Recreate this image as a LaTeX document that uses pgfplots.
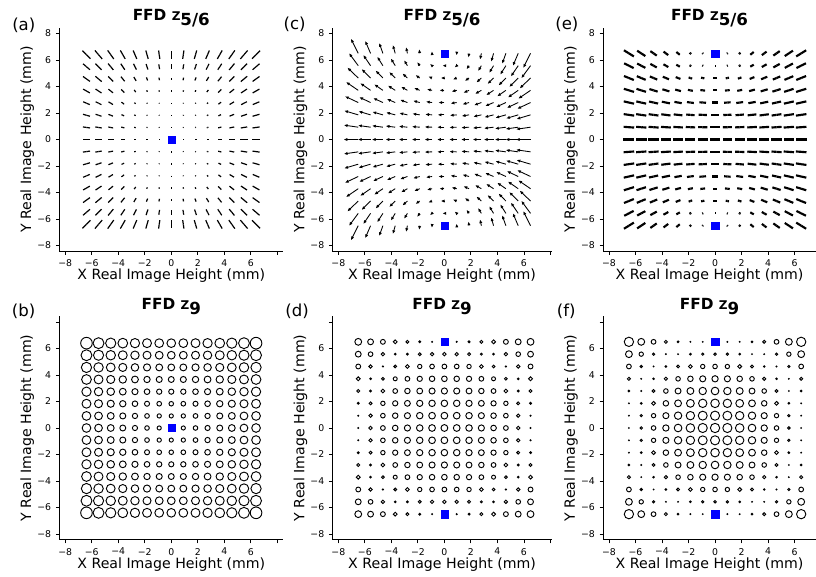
\documentclass[border=0pt]{standalone}
\usepackage{fontspec}
\setmainfont{DejaVu Sans}
\usepackage{pgfplots}
\usepackage{pgfplotstable}
\pgfplotsset{compat=1.18}
\usetikzlibrary{arrows.meta}
\definecolor{nodeblue}{RGB}{0,0,255}

% panel (a): half vectors of the centred segments
\pgfplotstableread[row sep=\\]{
x y u v\\
-6.4 6.4 0.304 -0.304\\-5.49 6.4 0.273 -0.319\\-4.57 6.4 0.229 -0.322\\-3.66 6.4 0.184 -0.321\\-2.74 6.4 0.136 -0.317\\-1.83 6.4 0.091 -0.317\\-0.91 6.4 0.045 -0.317\\0 6.4 0 0.31\\0.91 6.4 0.045 0.317\\1.83 6.4 0.091 0.317\\2.74 6.4 0.136 0.317\\3.66 6.4 0.184 0.321\\4.57 6.4 0.229 0.322\\5.49 6.4 0.273 0.319\\6.4 6.4 0.304 0.304\\
-6.4 5.49 0.262 -0.225\\-5.49 5.49 0.233 -0.233\\-4.57 5.49 0.198 -0.238\\-3.66 5.49 0.15 -0.225\\-2.74 5.49 0.11 -0.219\\-1.83 5.49 0.07 -0.209\\-0.91 5.49 0.03 -0.182\\0 5.49 0 0.185\\0.91 5.49 0.03 0.182\\1.83 5.49 0.07 0.209\\2.74 5.49 0.11 0.219\\3.66 5.49 0.15 0.225\\4.57 5.49 0.198 0.238\\5.49 5.49 0.233 0.233\\6.4 5.49 0.262 0.225\\
-6.4 4.57 0.26 -0.186\\-5.49 4.57 0.238 -0.198\\-4.57 4.57 0.191 -0.191\\-3.66 4.57 0.138 -0.172\\-2.74 4.57 0.087 -0.146\\-1.83 4.57 0.046 -0.116\\-0.91 4.57 0.02 -0.098\\0 4.57 0 0.1\\0.91 4.57 0.02 0.098\\1.83 4.57 0.046 0.116\\2.74 4.57 0.087 0.146\\3.66 4.57 0.138 0.172\\4.57 4.57 0.191 0.191\\5.49 4.57 0.238 0.198\\6.4 4.57 0.26 0.186\\
-6.4 3.66 0.256 -0.146\\-5.49 3.66 0.225 -0.15\\-4.57 3.66 0.172 -0.138\\-3.66 3.66 0.12 -0.12\\-2.74 3.66 0.06 -0.08\\-1.83 3.66 0.027 -0.054\\-0.91 3.66 0.012 -0.049\\0 3.66 0 0.05\\0.91 3.66 0.012 0.049\\1.83 3.66 0.027 0.054\\2.74 3.66 0.06 0.08\\3.66 3.66 0.12 0.12\\4.57 3.66 0.172 0.138\\5.49 3.66 0.225 0.15\\6.4 3.66 0.256 0.146\\
-6.4 2.74 0.248 -0.106\\-5.49 2.74 0.219 -0.11\\-4.57 2.74 0.167 -0.1\\-3.66 2.74 0.1 -0.075\\-2.74 2.74 0.042 -0.042\\-1.83 2.74 0.019 -0.029\\-0.91 2.74 0.008 -0.024\\0 2.74 0 0.025\\0.91 2.74 0.008 0.024\\1.83 2.74 0.019 0.029\\2.74 2.74 0.042 0.042\\3.66 2.74 0.1 0.075\\4.57 2.74 0.167 0.1\\5.49 2.74 0.219 0.11\\6.4 2.74 0.248 0.106\\
-6.4 1.83 0.26 -0.074\\-5.49 1.83 0.223 -0.074\\-4.57 1.83 0.172 -0.069\\-3.66 1.83 0.098 -0.049\\-2.74 1.83 0.05 -0.033\\-1.83 1.83 0.025 -0.025\\-0.91 1.83 0.011 -0.022\\0 1.83 0 0.025\\0.91 1.83 0.011 0.022\\1.83 1.83 0.025 0.025\\2.74 1.83 0.05 0.033\\3.66 1.83 0.098 0.049\\4.57 1.83 0.172 0.069\\5.49 1.83 0.223 0.074\\6.4 1.83 0.26 0.074\\
-6.4 0.91 0.267 -0.038\\-5.49 0.91 0.242 -0.04\\-4.57 0.91 0.181 -0.036\\-3.66 0.91 0.121 -0.03\\-2.74 0.91 0.057 -0.019\\-1.83 0.91 0.031 -0.016\\-0.91 0.91 0.018 -0.018\\0 0.91 0 0.02\\0.91 0.91 0.018 0.018\\1.83 0.91 0.031 0.016\\2.74 0.91 0.057 0.019\\3.66 0.91 0.121 0.03\\4.57 0.91 0.181 0.036\\5.49 0.91 0.242 0.04\\6.4 0.91 0.267 0.038\\
-6.4 0 0.295 0\\-5.49 0 0.27 0\\-4.57 0 0.22 0\\-3.66 0 0.15 0\\-2.74 0 0.075 0\\-1.83 0 0.05 0\\-0.91 0 0.015 0\\0.91 0 0.015 0\\1.83 0 0.05 0\\2.74 0 0.075 0\\3.66 0 0.15 0\\4.57 0 0.22 0\\5.49 0 0.27 0\\6.4 0 0.295 0\\
-6.4 -0.91 0.267 0.038\\-5.49 -0.91 0.242 0.04\\-4.57 -0.91 0.181 0.036\\-3.66 -0.91 0.121 0.03\\-2.74 -0.91 0.057 0.019\\-1.83 -0.91 0.031 0.016\\-0.91 -0.91 0.018 0.018\\0 -0.91 0 0.02\\0.91 -0.91 0.018 -0.018\\1.83 -0.91 0.031 -0.016\\2.74 -0.91 0.057 -0.019\\3.66 -0.91 0.121 -0.03\\4.57 -0.91 0.181 -0.036\\5.49 -0.91 0.242 -0.04\\6.4 -0.91 0.267 -0.038\\
-6.4 -1.83 0.26 0.074\\-5.49 -1.83 0.223 0.074\\-4.57 -1.83 0.172 0.069\\-3.66 -1.83 0.098 0.049\\-2.74 -1.83 0.05 0.033\\-1.83 -1.83 0.025 0.025\\-0.91 -1.83 0.011 0.022\\0 -1.83 0 0.025\\0.91 -1.83 0.011 -0.022\\1.83 -1.83 0.025 -0.025\\2.74 -1.83 0.05 -0.033\\3.66 -1.83 0.098 -0.049\\4.57 -1.83 0.172 -0.069\\5.49 -1.83 0.223 -0.074\\6.4 -1.83 0.26 -0.074\\
-6.4 -2.74 0.248 0.106\\-5.49 -2.74 0.219 0.11\\-4.57 -2.74 0.167 0.1\\-3.66 -2.74 0.1 0.075\\-2.74 -2.74 0.042 0.042\\-1.83 -2.74 0.019 0.029\\-0.91 -2.74 0.008 0.024\\0 -2.74 0 0.025\\0.91 -2.74 0.008 -0.024\\1.83 -2.74 0.019 -0.029\\2.74 -2.74 0.042 -0.042\\3.66 -2.74 0.1 -0.075\\4.57 -2.74 0.167 -0.1\\5.49 -2.74 0.219 -0.11\\6.4 -2.74 0.248 -0.106\\
-6.4 -3.66 0.256 0.146\\-5.49 -3.66 0.225 0.15\\-4.57 -3.66 0.172 0.138\\-3.66 -3.66 0.12 0.12\\-2.74 -3.66 0.06 0.08\\-1.83 -3.66 0.027 0.054\\-0.91 -3.66 0.012 0.049\\0 -3.66 0 0.05\\0.91 -3.66 0.012 -0.049\\1.83 -3.66 0.027 -0.054\\2.74 -3.66 0.06 -0.08\\3.66 -3.66 0.12 -0.12\\4.57 -3.66 0.172 -0.138\\5.49 -3.66 0.225 -0.15\\6.4 -3.66 0.256 -0.146\\
-6.4 -4.57 0.26 0.186\\-5.49 -4.57 0.238 0.198\\-4.57 -4.57 0.191 0.191\\-3.66 -4.57 0.138 0.172\\-2.74 -4.57 0.087 0.146\\-1.83 -4.57 0.046 0.116\\-0.91 -4.57 0.02 0.098\\0 -4.57 0 0.1\\0.91 -4.57 0.02 -0.098\\1.83 -4.57 0.046 -0.116\\2.74 -4.57 0.087 -0.146\\3.66 -4.57 0.138 -0.172\\4.57 -4.57 0.191 -0.191\\5.49 -4.57 0.238 -0.198\\6.4 -4.57 0.26 -0.186\\
-6.4 -5.49 0.262 0.225\\-5.49 -5.49 0.233 0.233\\-4.57 -5.49 0.198 0.238\\-3.66 -5.49 0.15 0.225\\-2.74 -5.49 0.11 0.219\\-1.83 -5.49 0.07 0.209\\-0.91 -5.49 0.03 0.182\\0 -5.49 0 0.185\\0.91 -5.49 0.03 -0.182\\1.83 -5.49 0.07 -0.209\\2.74 -5.49 0.11 -0.219\\3.66 -5.49 0.15 -0.225\\4.57 -5.49 0.198 -0.238\\5.49 -5.49 0.233 -0.233\\6.4 -5.49 0.262 -0.225\\
-6.4 -6.4 0.304 0.304\\-5.49 -6.4 0.273 0.319\\-4.57 -6.4 0.229 0.322\\-3.66 -6.4 0.184 0.321\\-2.74 -6.4 0.136 0.317\\-1.83 -6.4 0.091 0.317\\-0.91 -6.4 0.045 0.317\\0 -6.4 0 0.31\\0.91 -6.4 0.045 -0.317\\1.83 -6.4 0.091 -0.317\\2.74 -6.4 0.136 -0.317\\3.66 -6.4 0.184 -0.321\\4.57 -6.4 0.229 -0.322\\5.49 -6.4 0.273 -0.319\\6.4 -6.4 0.304 -0.304\\
}\tabA

% panel (c): arrows, tail at the grid point
\pgfplotstableread[row sep=\\]{
x y u v\\
-6.5 6.5 -0.549 1.098\\-5.57 6.5 -0.404 0.942\\-4.64 6.5 -0.28 0.785\\-3.71 6.5 -0.179 0.628\\-2.79 6.5 -0.101 0.471\\-1.86 6.5 -0.045 0.314\\-0.93 6.5 -0.011 0.157\\0.93 6.5 -0.011 -0.157\\1.86 6.5 -0.045 -0.314\\2.79 6.5 -0.101 -0.471\\3.71 6.5 -0.179 -0.628\\4.64 6.5 -0.28 -0.785\\5.57 6.5 -0.404 -0.942\\6.5 6.5 -0.549 -1.098\\
-6.5 5.57 -0.695 0.942\\-5.57 5.57 -0.549 0.807\\-4.64 5.57 -0.426 0.673\\-3.71 5.57 -0.325 0.538\\-2.79 5.57 -0.247 0.404\\-1.86 5.57 -0.191 0.269\\-0.93 5.57 -0.157 0.135\\0 5.57 -0.146 0\\0.93 5.57 -0.157 -0.135\\1.86 5.57 -0.191 -0.269\\2.79 5.57 -0.247 -0.404\\3.71 5.57 -0.325 -0.538\\4.64 5.57 -0.426 -0.673\\5.57 5.57 -0.549 -0.807\\6.5 5.57 -0.695 -0.942\\
-6.5 4.64 -0.818 0.785\\-5.57 4.64 -0.673 0.673\\-4.64 4.64 -0.549 0.56\\-3.71 4.64 -0.449 0.448\\-2.79 4.64 -0.37 0.336\\-1.86 4.64 -0.314 0.224\\-0.93 4.64 -0.28 0.112\\0 4.64 -0.269 0\\0.93 4.64 -0.28 -0.112\\1.86 4.64 -0.314 -0.224\\2.79 4.64 -0.37 -0.336\\3.71 4.64 -0.449 -0.448\\4.64 4.64 -0.549 -0.56\\5.57 4.64 -0.673 -0.673\\6.5 4.64 -0.818 -0.785\\
-6.5 3.71 -0.919 0.628\\-5.57 3.71 -0.773 0.538\\-4.64 3.71 -0.65 0.448\\-3.71 3.71 -0.549 0.359\\-2.79 3.71 -0.471 0.269\\-1.86 3.71 -0.415 0.179\\-0.93 3.71 -0.381 0.09\\0 3.71 -0.37 0\\0.93 3.71 -0.381 -0.09\\1.86 3.71 -0.415 -0.179\\2.79 3.71 -0.471 -0.269\\3.71 3.71 -0.549 -0.359\\4.64 3.71 -0.65 -0.448\\5.57 3.71 -0.773 -0.538\\6.5 3.71 -0.919 -0.628\\
-6.5 2.79 -0.998 0.471\\-5.57 2.79 -0.852 0.404\\-4.64 2.79 -0.729 0.336\\-3.71 2.79 -0.628 0.269\\-2.79 2.79 -0.549 0.202\\-1.86 2.79 -0.493 0.135\\-0.93 2.79 -0.46 0.067\\0 2.79 -0.448 0\\0.93 2.79 -0.46 -0.067\\1.86 2.79 -0.493 -0.135\\2.79 2.79 -0.549 -0.202\\3.71 2.79 -0.628 -0.269\\4.64 2.79 -0.729 -0.336\\5.57 2.79 -0.852 -0.404\\6.5 2.79 -0.998 -0.471\\
-6.5 1.86 -1.054 0.314\\-5.57 1.86 -0.908 0.269\\-4.64 1.86 -0.785 0.224\\-3.71 1.86 -0.684 0.179\\-2.79 1.86 -0.605 0.135\\-1.86 1.86 -0.549 0.09\\-0.93 1.86 -0.516 0.045\\0 1.86 -0.504 0\\0.93 1.86 -0.516 -0.045\\1.86 1.86 -0.549 -0.09\\2.79 1.86 -0.605 -0.135\\3.71 1.86 -0.684 -0.179\\4.64 1.86 -0.785 -0.224\\5.57 1.86 -0.908 -0.269\\6.5 1.86 -1.054 -0.314\\
-6.5 0.93 -1.087 0.157\\-5.57 0.93 -0.942 0.135\\-4.64 0.93 -0.818 0.112\\-3.71 0.93 -0.717 0.09\\-2.79 0.93 -0.639 0.067\\-1.86 0.93 -0.583 0.045\\-0.93 0.93 -0.549 0.022\\0 0.93 -0.538 0\\0.93 0.93 -0.549 -0.022\\1.86 0.93 -0.583 -0.045\\2.79 0.93 -0.639 -0.067\\3.71 0.93 -0.717 -0.09\\4.64 0.93 -0.818 -0.112\\5.57 0.93 -0.942 -0.135\\6.5 0.93 -1.087 -0.157\\
-6.5 0 -1.099 0\\-5.57 0 -0.953 0\\-4.64 0 -0.83 0\\-3.71 0 -0.729 0\\-2.79 0 -0.65 0\\-1.86 0 -0.594 0\\-0.93 0 -0.561 0\\0 0 -0.549 0\\0.93 0 -0.561 0\\1.86 0 -0.594 0\\2.79 0 -0.65 0\\3.71 0 -0.729 0\\4.64 0 -0.83 0\\5.57 0 -0.953 0\\6.5 0 -1.099 0\\
-6.5 -0.93 -1.087 -0.157\\-5.57 -0.93 -0.942 -0.135\\-4.64 -0.93 -0.818 -0.112\\-3.71 -0.93 -0.717 -0.09\\-2.79 -0.93 -0.639 -0.067\\-1.86 -0.93 -0.583 -0.045\\-0.93 -0.93 -0.549 -0.022\\0 -0.93 -0.538 0\\0.93 -0.93 -0.549 0.022\\1.86 -0.93 -0.583 0.045\\2.79 -0.93 -0.639 0.067\\3.71 -0.93 -0.717 0.09\\4.64 -0.93 -0.818 0.112\\5.57 -0.93 -0.942 0.135\\6.5 -0.93 -1.087 0.157\\
-6.5 -1.86 -1.054 -0.314\\-5.57 -1.86 -0.908 -0.269\\-4.64 -1.86 -0.785 -0.224\\-3.71 -1.86 -0.684 -0.179\\-2.79 -1.86 -0.605 -0.135\\-1.86 -1.86 -0.549 -0.09\\-0.93 -1.86 -0.516 -0.045\\0 -1.86 -0.504 0\\0.93 -1.86 -0.516 0.045\\1.86 -1.86 -0.549 0.09\\2.79 -1.86 -0.605 0.135\\3.71 -1.86 -0.684 0.179\\4.64 -1.86 -0.785 0.224\\5.57 -1.86 -0.908 0.269\\6.5 -1.86 -1.054 0.314\\
-6.5 -2.79 -0.998 -0.471\\-5.57 -2.79 -0.852 -0.404\\-4.64 -2.79 -0.729 -0.336\\-3.71 -2.79 -0.628 -0.269\\-2.79 -2.79 -0.549 -0.202\\-1.86 -2.79 -0.493 -0.135\\-0.93 -2.79 -0.46 -0.067\\0 -2.79 -0.448 0\\0.93 -2.79 -0.46 0.067\\1.86 -2.79 -0.493 0.135\\2.79 -2.79 -0.549 0.202\\3.71 -2.79 -0.628 0.269\\4.64 -2.79 -0.729 0.336\\5.57 -2.79 -0.852 0.404\\6.5 -2.79 -0.998 0.471\\
-6.5 -3.71 -0.919 -0.628\\-5.57 -3.71 -0.773 -0.538\\-4.64 -3.71 -0.65 -0.448\\-3.71 -3.71 -0.549 -0.359\\-2.79 -3.71 -0.471 -0.269\\-1.86 -3.71 -0.415 -0.179\\-0.93 -3.71 -0.381 -0.09\\0 -3.71 -0.37 0\\0.93 -3.71 -0.381 0.09\\1.86 -3.71 -0.415 0.179\\2.79 -3.71 -0.471 0.269\\3.71 -3.71 -0.549 0.359\\4.64 -3.71 -0.65 0.448\\5.57 -3.71 -0.773 0.538\\6.5 -3.71 -0.919 0.628\\
-6.5 -4.64 -0.818 -0.785\\-5.57 -4.64 -0.673 -0.673\\-4.64 -4.64 -0.549 -0.56\\-3.71 -4.64 -0.449 -0.448\\-2.79 -4.64 -0.37 -0.336\\-1.86 -4.64 -0.314 -0.224\\-0.93 -4.64 -0.28 -0.112\\0 -4.64 -0.269 0\\0.93 -4.64 -0.28 0.112\\1.86 -4.64 -0.314 0.224\\2.79 -4.64 -0.37 0.336\\3.71 -4.64 -0.449 0.448\\4.64 -4.64 -0.549 0.56\\5.57 -4.64 -0.673 0.673\\6.5 -4.64 -0.818 0.785\\
-6.5 -5.57 -0.695 -0.942\\-5.57 -5.57 -0.549 -0.807\\-4.64 -5.57 -0.426 -0.673\\-3.71 -5.57 -0.325 -0.538\\-2.79 -5.57 -0.247 -0.404\\-1.86 -5.57 -0.191 -0.269\\-0.93 -5.57 -0.157 -0.135\\0 -5.57 -0.146 0\\0.93 -5.57 -0.157 0.135\\1.86 -5.57 -0.191 0.269\\2.79 -5.57 -0.247 0.404\\3.71 -5.57 -0.325 0.538\\4.64 -5.57 -0.426 0.673\\5.57 -5.57 -0.549 0.807\\6.5 -5.57 -0.695 0.942\\
-6.5 -6.5 -0.549 -1.098\\-5.57 -6.5 -0.404 -0.942\\-4.64 -6.5 -0.28 -0.785\\-3.71 -6.5 -0.179 -0.628\\-2.79 -6.5 -0.101 -0.471\\-1.86 -6.5 -0.045 -0.314\\-0.93 -6.5 -0.011 -0.157\\0.93 -6.5 -0.011 0.157\\1.86 -6.5 -0.045 0.314\\2.79 -6.5 -0.101 0.471\\3.71 -6.5 -0.179 0.628\\4.64 -6.5 -0.28 0.785\\5.57 -6.5 -0.404 0.942\\6.5 -6.5 -0.549 1.098\\
}\tabC

% panel (e): half vectors of the centred segments
\pgfplotstableread[row sep=\\]{
x y u v\\
-6.5 6.5 0.374 -0.231\\-5.57 6.5 0.309 -0.204\\-4.64 6.5 0.241 -0.17\\-3.71 6.5 0.176 -0.132\\-2.79 6.5 0.128 -0.104\\-1.86 6.5 0.057 -0.049\\-0.93 6.5 0.029 -0.027\\0.93 6.5 0.029 0.027\\1.86 6.5 0.057 0.049\\2.79 6.5 0.128 0.104\\3.71 6.5 0.176 0.132\\4.64 6.5 0.241 0.17\\5.57 6.5 0.309 0.204\\6.5 6.5 0.374 0.231\\
-6.5 5.57 0.357 -0.18\\-5.57 5.57 0.309 -0.164\\-4.64 5.57 0.241 -0.133\\-3.71 5.57 0.183 -0.103\\-2.79 5.57 0.131 -0.073\\-1.86 5.57 0.067 -0.034\\-0.93 5.57 0.038 -0.014\\0 5.57 0.03 0\\0.93 5.57 0.038 0.014\\1.86 5.57 0.067 0.034\\2.79 5.57 0.131 0.073\\3.71 5.57 0.183 0.103\\4.64 5.57 0.241 0.133\\5.57 5.57 0.309 0.164\\6.5 5.57 0.357 0.18\\
-6.5 4.64 0.371 -0.149\\-5.57 4.64 0.333 -0.138\\-4.64 4.64 0.277 -0.116\\-3.71 4.64 0.231 -0.096\\-2.79 4.64 0.177 -0.069\\-1.86 4.64 0.133 -0.043\\-0.93 4.64 0.123 -0.024\\0 4.64 0.125 0\\0.93 4.64 0.123 0.024\\1.86 4.64 0.133 0.043\\2.79 4.64 0.177 0.069\\3.71 4.64 0.231 0.096\\4.64 4.64 0.277 0.116\\5.57 4.64 0.333 0.138\\6.5 4.64 0.371 0.149\\
-6.5 3.71 0.382 -0.118\\-5.57 3.71 0.358 -0.112\\-4.64 3.71 0.31 -0.097\\-3.71 3.71 0.264 -0.079\\-2.79 3.71 0.217 -0.058\\-1.86 3.71 0.186 -0.039\\-0.93 3.71 0.179 -0.021\\0 3.71 0.18 0\\0.93 3.71 0.179 0.021\\1.86 3.71 0.186 0.039\\2.79 3.71 0.217 0.058\\3.71 3.71 0.264 0.079\\4.64 3.71 0.31 0.097\\5.57 3.71 0.358 0.112\\6.5 3.71 0.382 0.118\\
-6.5 2.79 0.39 -0.088\\-5.57 2.79 0.371 -0.084\\-4.64 2.79 0.342 -0.075\\-3.71 2.79 0.304 -0.062\\-2.79 2.79 0.276 -0.049\\-1.86 2.79 0.258 -0.035\\-0.93 2.79 0.249 -0.018\\0 2.79 0.25 0\\0.93 2.79 0.249 0.018\\1.86 2.79 0.258 0.035\\2.79 2.79 0.276 0.049\\3.71 2.79 0.304 0.062\\4.64 2.79 0.342 0.075\\5.57 2.79 0.371 0.084\\6.5 2.79 0.39 0.088\\
-6.5 1.86 0.396 -0.058\\-5.57 1.86 0.381 -0.055\\-4.64 1.86 0.366 -0.051\\-3.71 1.86 0.347 -0.045\\-2.79 1.86 0.328 -0.036\\-1.86 1.86 0.314 -0.025\\-0.93 1.86 0.31 -0.013\\0 1.86 0.31 0\\0.93 1.86 0.31 0.013\\1.86 1.86 0.314 0.025\\2.79 1.86 0.328 0.036\\3.71 1.86 0.347 0.045\\4.64 1.86 0.366 0.051\\5.57 1.86 0.381 0.055\\6.5 1.86 0.396 0.058\\
-6.5 0.93 0.399 -0.029\\-5.57 0.93 0.389 -0.028\\-4.64 0.93 0.379 -0.026\\-3.71 0.93 0.369 -0.023\\-2.79 0.93 0.36 -0.019\\-1.86 0.93 0.35 -0.013\\-0.93 0.93 0.345 -0.007\\0 0.93 0.345 0\\0.93 0.93 0.345 0.007\\1.86 0.93 0.35 0.013\\2.79 0.93 0.36 0.019\\3.71 0.93 0.369 0.023\\4.64 0.93 0.379 0.026\\5.57 0.93 0.389 0.028\\6.5 0.93 0.399 0.029\\
-6.5 0 0.41 0\\-5.57 0 0.4 0\\-4.64 0 0.39 0\\-3.71 0 0.38 0\\-2.79 0 0.375 0\\-1.86 0 0.37 0\\-0.93 0 0.365 0\\0 0 0.36 0\\0.93 0 0.365 0\\1.86 0 0.37 0\\2.79 0 0.375 0\\3.71 0 0.38 0\\4.64 0 0.39 0\\5.57 0 0.4 0\\6.5 0 0.41 0\\
-6.5 -0.93 0.399 0.029\\-5.57 -0.93 0.389 0.028\\-4.64 -0.93 0.379 0.026\\-3.71 -0.93 0.369 0.023\\-2.79 -0.93 0.36 0.019\\-1.86 -0.93 0.35 0.013\\-0.93 -0.93 0.345 0.007\\0 -0.93 0.345 0\\0.93 -0.93 0.345 -0.007\\1.86 -0.93 0.35 -0.013\\2.79 -0.93 0.36 -0.019\\3.71 -0.93 0.369 -0.023\\4.64 -0.93 0.379 -0.026\\5.57 -0.93 0.389 -0.028\\6.5 -0.93 0.399 -0.029\\
-6.5 -1.86 0.396 0.058\\-5.57 -1.86 0.381 0.055\\-4.64 -1.86 0.366 0.051\\-3.71 -1.86 0.347 0.045\\-2.79 -1.86 0.328 0.036\\-1.86 -1.86 0.314 0.025\\-0.93 -1.86 0.31 0.013\\0 -1.86 0.31 0\\0.93 -1.86 0.31 -0.013\\1.86 -1.86 0.314 -0.025\\2.79 -1.86 0.328 -0.036\\3.71 -1.86 0.347 -0.045\\4.64 -1.86 0.366 -0.051\\5.57 -1.86 0.381 -0.055\\6.5 -1.86 0.396 -0.058\\
-6.5 -2.79 0.39 0.088\\-5.57 -2.79 0.371 0.084\\-4.64 -2.79 0.342 0.075\\-3.71 -2.79 0.304 0.062\\-2.79 -2.79 0.276 0.049\\-1.86 -2.79 0.258 0.035\\-0.93 -2.79 0.249 0.018\\0 -2.79 0.25 0\\0.93 -2.79 0.249 -0.018\\1.86 -2.79 0.258 -0.035\\2.79 -2.79 0.276 -0.049\\3.71 -2.79 0.304 -0.062\\4.64 -2.79 0.342 -0.075\\5.57 -2.79 0.371 -0.084\\6.5 -2.79 0.39 -0.088\\
-6.5 -3.71 0.382 0.118\\-5.57 -3.71 0.358 0.112\\-4.64 -3.71 0.31 0.097\\-3.71 -3.71 0.264 0.079\\-2.79 -3.71 0.217 0.058\\-1.86 -3.71 0.186 0.039\\-0.93 -3.71 0.179 0.021\\0 -3.71 0.18 0\\0.93 -3.71 0.179 -0.021\\1.86 -3.71 0.186 -0.039\\2.79 -3.71 0.217 -0.058\\3.71 -3.71 0.264 -0.079\\4.64 -3.71 0.31 -0.097\\5.57 -3.71 0.358 -0.112\\6.5 -3.71 0.382 -0.118\\
-6.5 -4.64 0.371 0.149\\-5.57 -4.64 0.333 0.138\\-4.64 -4.64 0.277 0.116\\-3.71 -4.64 0.231 0.096\\-2.79 -4.64 0.177 0.069\\-1.86 -4.64 0.133 0.043\\-0.93 -4.64 0.123 0.024\\0 -4.64 0.125 0\\0.93 -4.64 0.123 -0.024\\1.86 -4.64 0.133 -0.043\\2.79 -4.64 0.177 -0.069\\3.71 -4.64 0.231 -0.096\\4.64 -4.64 0.277 -0.116\\5.57 -4.64 0.333 -0.138\\6.5 -4.64 0.371 -0.149\\
-6.5 -5.57 0.357 0.18\\-5.57 -5.57 0.309 0.164\\-4.64 -5.57 0.241 0.133\\-3.71 -5.57 0.183 0.103\\-2.79 -5.57 0.131 0.073\\-1.86 -5.57 0.067 0.034\\-0.93 -5.57 0.038 0.014\\0 -5.57 0.03 0\\0.93 -5.57 0.038 -0.014\\1.86 -5.57 0.067 -0.034\\2.79 -5.57 0.131 -0.073\\3.71 -5.57 0.183 -0.103\\4.64 -5.57 0.241 -0.133\\5.57 -5.57 0.309 -0.164\\6.5 -5.57 0.357 -0.18\\
-6.5 -6.5 0.374 0.231\\-5.57 -6.5 0.309 0.204\\-4.64 -6.5 0.241 0.17\\-3.71 -6.5 0.176 0.132\\-2.79 -6.5 0.128 0.104\\-1.86 -6.5 0.057 0.049\\-0.93 -6.5 0.029 0.027\\0.93 -6.5 0.029 -0.027\\1.86 -6.5 0.057 -0.049\\2.79 -6.5 0.128 -0.104\\3.71 -6.5 0.176 -0.132\\4.64 -6.5 0.241 -0.17\\5.57 -6.5 0.309 -0.204\\6.5 -6.5 0.374 -0.231\\
}\tabE

% panel (b): circle radius in pt
\pgfplotstableread[row sep=\\]{
x y r\\
-6.4 6.4 4.35\\-5.49 6.4 4.09\\-4.57 6.4 3.85\\-3.66 6.4 3.65\\-2.74 6.4 3.48\\-1.83 6.4 3.35\\-0.91 6.4 3.28\\0 6.4 3.25\\0.91 6.4 3.28\\1.83 6.4 3.35\\2.74 6.4 3.48\\3.66 6.4 3.65\\4.57 6.4 3.85\\5.49 6.4 4.09\\6.4 6.4 4.35\\
-6.4 5.49 4.09\\-5.49 5.49 3.81\\-4.57 5.49 3.55\\-3.66 5.49 3.33\\-2.74 5.49 3.15\\-1.83 5.49 3.01\\-0.91 5.49 2.92\\0 5.49 2.89\\0.91 5.49 2.92\\1.83 5.49 3.01\\2.74 5.49 3.15\\3.66 5.49 3.33\\4.57 5.49 3.55\\5.49 5.49 3.81\\6.4 5.49 4.09\\
-6.4 4.57 3.85\\-5.49 4.57 3.55\\-4.57 4.57 3.28\\-3.66 4.57 3.04\\-2.74 4.57 2.83\\-1.83 4.57 2.68\\-0.91 4.57 2.58\\0 4.57 2.55\\0.91 4.57 2.58\\1.83 4.57 2.68\\2.74 4.57 2.83\\3.66 4.57 3.04\\4.57 4.57 3.28\\5.49 4.57 3.55\\6.4 4.57 3.85\\
-6.4 3.66 3.65\\-5.49 3.66 3.33\\-4.57 3.66 3.04\\-3.66 3.66 2.77\\-2.74 3.66 2.55\\-1.83 3.66 2.38\\-0.91 3.66 2.27\\0 3.66 2.23\\0.91 3.66 2.27\\1.83 3.66 2.38\\2.74 3.66 2.55\\3.66 3.66 2.77\\4.57 3.66 3.04\\5.49 3.66 3.33\\6.4 3.66 3.65\\
-6.4 2.74 3.48\\-5.49 2.74 3.15\\-4.57 2.74 2.83\\-3.66 2.74 2.55\\-2.74 2.74 2.3\\-1.83 2.74 2.11\\-0.91 2.74 1.99\\0 2.74 1.94\\0.91 2.74 1.99\\1.83 2.74 2.11\\2.74 2.74 2.3\\3.66 2.74 2.55\\4.57 2.74 2.83\\5.49 2.74 3.15\\6.4 2.74 3.48\\
-6.4 1.83 3.35\\-5.49 1.83 3.01\\-4.57 1.83 2.68\\-3.66 1.83 2.38\\-2.74 1.83 2.11\\-1.83 1.83 1.9\\-0.91 1.83 1.76\\0 1.83 1.71\\0.91 1.83 1.76\\1.83 1.83 1.9\\2.74 1.83 2.11\\3.66 1.83 2.38\\4.57 1.83 2.68\\5.49 1.83 3.01\\6.4 1.83 3.35\\
-6.4 0.91 3.28\\-5.49 0.91 2.92\\-4.57 0.91 2.58\\-3.66 0.91 2.27\\-2.74 0.91 1.99\\-1.83 0.91 1.76\\-0.91 0.91 1.61\\0 0.91 1.56\\0.91 0.91 1.61\\1.83 0.91 1.76\\2.74 0.91 1.99\\3.66 0.91 2.27\\4.57 0.91 2.58\\5.49 0.91 2.92\\6.4 0.91 3.28\\
-6.4 0 3.25\\-5.49 0 2.89\\-4.57 0 2.55\\-3.66 0 2.23\\-2.74 0 1.94\\-1.83 0 1.71\\-0.91 0 1.56\\0 0 1.5\\0.91 0 1.56\\1.83 0 1.71\\2.74 0 1.94\\3.66 0 2.23\\4.57 0 2.55\\5.49 0 2.89\\6.4 0 3.25\\
-6.4 -0.91 3.28\\-5.49 -0.91 2.92\\-4.57 -0.91 2.58\\-3.66 -0.91 2.27\\-2.74 -0.91 1.99\\-1.83 -0.91 1.76\\-0.91 -0.91 1.61\\0 -0.91 1.56\\0.91 -0.91 1.61\\1.83 -0.91 1.76\\2.74 -0.91 1.99\\3.66 -0.91 2.27\\4.57 -0.91 2.58\\5.49 -0.91 2.92\\6.4 -0.91 3.28\\
-6.4 -1.83 3.35\\-5.49 -1.83 3.01\\-4.57 -1.83 2.68\\-3.66 -1.83 2.38\\-2.74 -1.83 2.11\\-1.83 -1.83 1.9\\-0.91 -1.83 1.76\\0 -1.83 1.71\\0.91 -1.83 1.76\\1.83 -1.83 1.9\\2.74 -1.83 2.11\\3.66 -1.83 2.38\\4.57 -1.83 2.68\\5.49 -1.83 3.01\\6.4 -1.83 3.35\\
-6.4 -2.74 3.48\\-5.49 -2.74 3.15\\-4.57 -2.74 2.83\\-3.66 -2.74 2.55\\-2.74 -2.74 2.3\\-1.83 -2.74 2.11\\-0.91 -2.74 1.99\\0 -2.74 1.94\\0.91 -2.74 1.99\\1.83 -2.74 2.11\\2.74 -2.74 2.3\\3.66 -2.74 2.55\\4.57 -2.74 2.83\\5.49 -2.74 3.15\\6.4 -2.74 3.48\\
-6.4 -3.66 3.65\\-5.49 -3.66 3.33\\-4.57 -3.66 3.04\\-3.66 -3.66 2.77\\-2.74 -3.66 2.55\\-1.83 -3.66 2.38\\-0.91 -3.66 2.27\\0 -3.66 2.23\\0.91 -3.66 2.27\\1.83 -3.66 2.38\\2.74 -3.66 2.55\\3.66 -3.66 2.77\\4.57 -3.66 3.04\\5.49 -3.66 3.33\\6.4 -3.66 3.65\\
-6.4 -4.57 3.85\\-5.49 -4.57 3.55\\-4.57 -4.57 3.28\\-3.66 -4.57 3.04\\-2.74 -4.57 2.83\\-1.83 -4.57 2.68\\-0.91 -4.57 2.58\\0 -4.57 2.55\\0.91 -4.57 2.58\\1.83 -4.57 2.68\\2.74 -4.57 2.83\\3.66 -4.57 3.04\\4.57 -4.57 3.28\\5.49 -4.57 3.55\\6.4 -4.57 3.85\\
-6.4 -5.49 4.09\\-5.49 -5.49 3.81\\-4.57 -5.49 3.55\\-3.66 -5.49 3.33\\-2.74 -5.49 3.15\\-1.83 -5.49 3.01\\-0.91 -5.49 2.92\\0 -5.49 2.89\\0.91 -5.49 2.92\\1.83 -5.49 3.01\\2.74 -5.49 3.15\\3.66 -5.49 3.33\\4.57 -5.49 3.55\\5.49 -5.49 3.81\\6.4 -5.49 4.09\\
-6.4 -6.4 4.35\\-5.49 -6.4 4.09\\-4.57 -6.4 3.85\\-3.66 -6.4 3.65\\-2.74 -6.4 3.48\\-1.83 -6.4 3.35\\-0.91 -6.4 3.28\\0 -6.4 3.25\\0.91 -6.4 3.28\\1.83 -6.4 3.35\\2.74 -6.4 3.48\\3.66 -6.4 3.65\\4.57 -6.4 3.85\\5.49 -6.4 4.09\\6.4 -6.4 4.35\\
}\tabB

% panel (d): circle radius in pt
\pgfplotstableread[row sep=\\]{
x y r\\
-6.5 6.5 2.56\\-5.57 6.5 2.19\\-4.64 6.5 1.83\\-3.71 6.5 1.46\\-2.79 6.5 1.1\\-1.86 6.5 0.73\\-0.93 6.5 0.37\\0.93 6.5 0.37\\1.86 6.5 0.73\\2.79 6.5 1.1\\3.71 6.5 1.46\\4.64 6.5 1.83\\5.57 6.5 2.19\\6.5 6.5 2.56\\
-6.5 5.57 2.19\\-5.57 5.57 1.75\\-4.64 5.57 1.27\\-3.71 5.57 0.63\\-2.79 5.57 0.73\\-1.86 5.57 1.1\\-0.93 5.57 1.27\\0 5.57 1.32\\0.93 5.57 1.27\\1.86 5.57 1.1\\2.79 5.57 0.73\\3.71 5.57 0.63\\4.64 5.57 1.27\\5.57 5.57 1.75\\6.5 5.57 2.19\\
-6.5 4.64 1.83\\-5.57 4.64 1.27\\-4.64 4.64 0.37\\-3.71 4.64 1.03\\-2.79 4.64 1.42\\-1.86 4.64 1.64\\-0.93 4.64 1.75\\0 4.64 1.79\\0.93 4.64 1.75\\1.86 4.64 1.64\\2.79 4.64 1.42\\3.71 4.64 1.03\\4.64 4.64 0.37\\5.57 4.64 1.27\\6.5 4.64 1.83\\
-6.5 3.71 1.46\\-5.57 3.71 0.63\\-4.64 3.71 1.03\\-3.71 3.71 1.51\\-2.79 3.71 1.79\\-1.86 3.71 1.97\\-0.93 3.71 2.07\\0 3.71 2.1\\0.93 3.71 2.07\\1.86 3.71 1.97\\2.79 3.71 1.79\\3.71 3.71 1.51\\4.64 3.71 1.03\\5.57 3.71 0.63\\6.5 3.71 1.46\\
-6.5 2.79 1.1\\-5.57 2.79 0.73\\-4.64 2.79 1.42\\-3.71 2.79 1.79\\-2.79 2.79 2.04\\-1.86 2.79 2.19\\-0.93 2.79 2.28\\0 2.79 2.31\\0.93 2.79 2.28\\1.86 2.79 2.19\\2.79 2.79 2.04\\3.71 2.79 1.79\\4.64 2.79 1.42\\5.57 2.79 0.73\\6.5 2.79 1.1\\
-6.5 1.86 0.73\\-5.57 1.86 1.1\\-4.64 1.86 1.64\\-3.71 1.86 1.97\\-2.79 1.86 2.19\\-1.86 1.86 2.34\\-0.93 1.86 2.43\\0 1.86 2.45\\0.93 1.86 2.43\\1.86 1.86 2.34\\2.79 1.86 2.19\\3.71 1.86 1.97\\4.64 1.86 1.64\\5.57 1.86 1.1\\6.5 1.86 0.73\\
-6.5 0.93 0.37\\-5.57 0.93 1.27\\-4.64 0.93 1.75\\-3.71 0.93 2.07\\-2.79 0.93 2.28\\-1.86 0.93 2.43\\-0.93 0.93 2.51\\0 0.93 2.53\\0.93 0.93 2.51\\1.86 0.93 2.43\\2.79 0.93 2.28\\3.71 0.93 2.07\\4.64 0.93 1.75\\5.57 0.93 1.27\\6.5 0.93 0.37\\
-6.5 0 0.3\\-5.57 0 1.32\\-4.64 0 1.79\\-3.71 0 2.1\\-2.79 0 2.31\\-1.86 0 2.45\\-0.93 0 2.53\\0 0 2.56\\0.93 0 2.53\\1.86 0 2.45\\2.79 0 2.31\\3.71 0 2.1\\4.64 0 1.79\\5.57 0 1.32\\6.5 0 0.3\\
-6.5 -0.93 0.37\\-5.57 -0.93 1.27\\-4.64 -0.93 1.75\\-3.71 -0.93 2.07\\-2.79 -0.93 2.28\\-1.86 -0.93 2.43\\-0.93 -0.93 2.51\\0 -0.93 2.53\\0.93 -0.93 2.51\\1.86 -0.93 2.43\\2.79 -0.93 2.28\\3.71 -0.93 2.07\\4.64 -0.93 1.75\\5.57 -0.93 1.27\\6.5 -0.93 0.37\\
-6.5 -1.86 0.73\\-5.57 -1.86 1.1\\-4.64 -1.86 1.64\\-3.71 -1.86 1.97\\-2.79 -1.86 2.19\\-1.86 -1.86 2.34\\-0.93 -1.86 2.43\\0 -1.86 2.45\\0.93 -1.86 2.43\\1.86 -1.86 2.34\\2.79 -1.86 2.19\\3.71 -1.86 1.97\\4.64 -1.86 1.64\\5.57 -1.86 1.1\\6.5 -1.86 0.73\\
-6.5 -2.79 1.1\\-5.57 -2.79 0.73\\-4.64 -2.79 1.42\\-3.71 -2.79 1.79\\-2.79 -2.79 2.04\\-1.86 -2.79 2.19\\-0.93 -2.79 2.28\\0 -2.79 2.31\\0.93 -2.79 2.28\\1.86 -2.79 2.19\\2.79 -2.79 2.04\\3.71 -2.79 1.79\\4.64 -2.79 1.42\\5.57 -2.79 0.73\\6.5 -2.79 1.1\\
-6.5 -3.71 1.46\\-5.57 -3.71 0.63\\-4.64 -3.71 1.03\\-3.71 -3.71 1.51\\-2.79 -3.71 1.79\\-1.86 -3.71 1.97\\-0.93 -3.71 2.07\\0 -3.71 2.1\\0.93 -3.71 2.07\\1.86 -3.71 1.97\\2.79 -3.71 1.79\\3.71 -3.71 1.51\\4.64 -3.71 1.03\\5.57 -3.71 0.63\\6.5 -3.71 1.46\\
-6.5 -4.64 1.83\\-5.57 -4.64 1.27\\-4.64 -4.64 0.37\\-3.71 -4.64 1.03\\-2.79 -4.64 1.42\\-1.86 -4.64 1.64\\-0.93 -4.64 1.75\\0 -4.64 1.79\\0.93 -4.64 1.75\\1.86 -4.64 1.64\\2.79 -4.64 1.42\\3.71 -4.64 1.03\\4.64 -4.64 0.37\\5.57 -4.64 1.27\\6.5 -4.64 1.83\\
-6.5 -5.57 2.19\\-5.57 -5.57 1.75\\-4.64 -5.57 1.27\\-3.71 -5.57 0.63\\-2.79 -5.57 0.73\\-1.86 -5.57 1.1\\-0.93 -5.57 1.27\\0 -5.57 1.32\\0.93 -5.57 1.27\\1.86 -5.57 1.1\\2.79 -5.57 0.73\\3.71 -5.57 0.63\\4.64 -5.57 1.27\\5.57 -5.57 1.75\\6.5 -5.57 2.19\\
-6.5 -6.5 2.56\\-5.57 -6.5 2.19\\-4.64 -6.5 1.83\\-3.71 -6.5 1.46\\-2.79 -6.5 1.1\\-1.86 -6.5 0.73\\-0.93 -6.5 0.37\\0.93 -6.5 0.37\\1.86 -6.5 0.73\\2.79 -6.5 1.1\\3.71 -6.5 1.46\\4.64 -6.5 1.83\\5.57 -6.5 2.19\\6.5 -6.5 2.56\\
}\tabD

% panel (f): circle radius in pt
\pgfplotstableread[row sep=\\]{
x y r\\
-6.5 6.5 3.5\\-5.57 6.5 2.57\\-4.64 6.5 1.79\\-3.71 6.5 1.14\\-2.79 6.5 0.64\\-1.86 6.5 0.3\\-0.93 6.5 0.3\\0.93 6.5 0.3\\1.86 6.5 0.3\\2.79 6.5 0.64\\3.71 6.5 1.14\\4.64 6.5 1.79\\5.57 6.5 2.57\\6.5 6.5 3.5\\
-6.5 5.57 2.57\\-5.57 5.57 1.64\\-4.64 5.57 0.86\\-3.71 5.57 0.3\\-2.79 5.57 0.3\\-1.86 5.57 0.64\\-0.93 5.57 0.86\\0 5.57 0.93\\0.93 5.57 0.86\\1.86 5.57 0.64\\2.79 5.57 0.3\\3.71 5.57 0.3\\4.64 5.57 0.86\\5.57 5.57 1.64\\6.5 5.57 2.57\\
-6.5 4.64 1.79\\-5.57 4.64 0.86\\-4.64 4.64 0.3\\-3.71 4.64 0.57\\-2.79 4.64 1.07\\-1.86 4.64 1.43\\-0.93 4.64 1.64\\0 4.64 1.72\\0.93 4.64 1.64\\1.86 4.64 1.43\\2.79 4.64 1.07\\3.71 4.64 0.57\\4.64 4.64 0.3\\5.57 4.64 0.86\\6.5 4.64 1.79\\
-6.5 3.71 1.14\\-5.57 3.71 0.3\\-4.64 3.71 0.57\\-3.71 3.71 1.22\\-2.79 3.71 1.72\\-1.86 3.71 2.07\\-0.93 3.71 2.29\\0 3.71 2.36\\0.93 3.71 2.29\\1.86 3.71 2.07\\2.79 3.71 1.72\\3.71 3.71 1.22\\4.64 3.71 0.57\\5.57 3.71 0.3\\6.5 3.71 1.14\\
-6.5 2.79 0.64\\-5.57 2.79 0.3\\-4.64 2.79 1.07\\-3.71 2.79 1.72\\-2.79 2.79 2.22\\-1.86 2.79 2.57\\-0.93 2.79 2.79\\0 2.79 2.86\\0.93 2.79 2.79\\1.86 2.79 2.57\\2.79 2.79 2.22\\3.71 2.79 1.72\\4.64 2.79 1.07\\5.57 2.79 0.3\\6.5 2.79 0.64\\
-6.5 1.86 0.3\\-5.57 1.86 0.64\\-4.64 1.86 1.43\\-3.71 1.86 2.07\\-2.79 1.86 2.57\\-1.86 1.86 2.93\\-0.93 1.86 3.15\\0 1.86 3.22\\0.93 1.86 3.15\\1.86 1.86 2.93\\2.79 1.86 2.57\\3.71 1.86 2.07\\4.64 1.86 1.43\\5.57 1.86 0.64\\6.5 1.86 0.3\\
-6.5 0.93 0.3\\-5.57 0.93 0.86\\-4.64 0.93 1.64\\-3.71 0.93 2.29\\-2.79 0.93 2.79\\-1.86 0.93 3.15\\-0.93 0.93 3.36\\0 0.93 3.43\\0.93 0.93 3.36\\1.86 0.93 3.15\\2.79 0.93 2.79\\3.71 0.93 2.29\\4.64 0.93 1.64\\5.57 0.93 0.86\\6.5 0.93 0.3\\
-6.5 0 0.3\\-5.57 0 0.93\\-4.64 0 1.72\\-3.71 0 2.36\\-2.79 0 2.86\\-1.86 0 3.22\\-0.93 0 3.43\\0 0 3.5\\0.93 0 3.43\\1.86 0 3.22\\2.79 0 2.86\\3.71 0 2.36\\4.64 0 1.72\\5.57 0 0.93\\6.5 0 0.3\\
-6.5 -0.93 0.3\\-5.57 -0.93 0.86\\-4.64 -0.93 1.64\\-3.71 -0.93 2.29\\-2.79 -0.93 2.79\\-1.86 -0.93 3.15\\-0.93 -0.93 3.36\\0 -0.93 3.43\\0.93 -0.93 3.36\\1.86 -0.93 3.15\\2.79 -0.93 2.79\\3.71 -0.93 2.29\\4.64 -0.93 1.64\\5.57 -0.93 0.86\\6.5 -0.93 0.3\\
-6.5 -1.86 0.3\\-5.57 -1.86 0.64\\-4.64 -1.86 1.43\\-3.71 -1.86 2.07\\-2.79 -1.86 2.57\\-1.86 -1.86 2.93\\-0.93 -1.86 3.15\\0 -1.86 3.22\\0.93 -1.86 3.15\\1.86 -1.86 2.93\\2.79 -1.86 2.57\\3.71 -1.86 2.07\\4.64 -1.86 1.43\\5.57 -1.86 0.64\\6.5 -1.86 0.3\\
-6.5 -2.79 0.64\\-5.57 -2.79 0.3\\-4.64 -2.79 1.07\\-3.71 -2.79 1.72\\-2.79 -2.79 2.22\\-1.86 -2.79 2.57\\-0.93 -2.79 2.79\\0 -2.79 2.86\\0.93 -2.79 2.79\\1.86 -2.79 2.57\\2.79 -2.79 2.22\\3.71 -2.79 1.72\\4.64 -2.79 1.07\\5.57 -2.79 0.3\\6.5 -2.79 0.64\\
-6.5 -3.71 1.14\\-5.57 -3.71 0.3\\-4.64 -3.71 0.57\\-3.71 -3.71 1.22\\-2.79 -3.71 1.72\\-1.86 -3.71 2.07\\-0.93 -3.71 2.29\\0 -3.71 2.36\\0.93 -3.71 2.29\\1.86 -3.71 2.07\\2.79 -3.71 1.72\\3.71 -3.71 1.22\\4.64 -3.71 0.57\\5.57 -3.71 0.3\\6.5 -3.71 1.14\\
-6.5 -4.64 1.79\\-5.57 -4.64 0.86\\-4.64 -4.64 0.3\\-3.71 -4.64 0.57\\-2.79 -4.64 1.07\\-1.86 -4.64 1.43\\-0.93 -4.64 1.64\\0 -4.64 1.72\\0.93 -4.64 1.64\\1.86 -4.64 1.43\\2.79 -4.64 1.07\\3.71 -4.64 0.57\\4.64 -4.64 0.3\\5.57 -4.64 0.86\\6.5 -4.64 1.79\\
-6.5 -5.57 2.57\\-5.57 -5.57 1.64\\-4.64 -5.57 0.86\\-3.71 -5.57 0.3\\-2.79 -5.57 0.3\\-1.86 -5.57 0.64\\-0.93 -5.57 0.86\\0 -5.57 0.93\\0.93 -5.57 0.86\\1.86 -5.57 0.64\\2.79 -5.57 0.3\\3.71 -5.57 0.3\\4.64 -5.57 0.86\\5.57 -5.57 1.64\\6.5 -5.57 2.57\\
-6.5 -6.5 3.5\\-5.57 -6.5 2.57\\-4.64 -6.5 1.79\\-3.71 -6.5 1.14\\-2.79 -6.5 0.64\\-1.86 -6.5 0.3\\-0.93 -6.5 0.3\\0.93 -6.5 0.3\\1.86 -6.5 0.3\\2.79 -6.5 0.64\\3.71 -6.5 1.14\\4.64 -6.5 1.79\\5.57 -6.5 2.57\\6.5 -6.5 3.5\\
}\tabF

\newcommand{\ttlA}{FFD {\fontsize{9}{9}\selectfont Z}\raisebox{-3.7pt}{\fontsize{12.5}{14}\selectfont 5/6}}
\newcommand{\ttlB}{FFD {\fontsize{9}{9}\selectfont Z}\raisebox{-3.7pt}{\fontsize{12.5}{14}\selectfont 9}}

\pgfplotsset{
  ffd/.style={
    scale only axis, anchor=south west, height=168pt,
    ymin=-8.45, ymax=8.45,
    axis x line*=bottom, axis y line*=left,
    axis line style={black, line width=0.75pt},
    tick align=outside, major tick length=2.6pt,
    every tick/.style={black, line width=0.6pt},
    xtick={-8,-6,...,8},
    xticklabels={−8,−6,−4,−2,0,2,4,6,},
    ytick={-8,-6,...,8},
    tick label style={font=\fontsize{7}{8}\selectfont},
    xlabel={X Real Image Height (mm)},
    ylabel={Y Real Image Height (mm)},
    every axis x label/.style={at={(axis description cs:0.5,0)}, anchor=base, yshift=-21pt, font=\fontsize{10.6}{12}\selectfont},
    every axis y label/.style={at={(axis description cs:0,0.5)}, anchor=center, xshift=-24pt, rotate=90, font=\fontsize{10.6}{12}\selectfont},
    every axis title/.style={at={(0.5,1)}, anchor=base, yshift=5pt, font=\bfseries\fontsize{11.5}{13}\selectfont},
  },
  toprow/.style={yticklabels={−8,−6,−4,−2,0,2,4,6,8}},
  botrow/.style={yticklabels={−8,−6,−4,−2,0,2,4,6,}},
  seg/.style={black, quiver={u=\thisrow{u},v=\thisrow{v}}},
  segback/.style={black, quiver={u=\thisrow{u},v=\thisrow{v},scale arrows=-1}},
  rings/.style={scatter, only marks, mark=o,
    scatter/use mapped color={draw=black},
    mark options={line width=0.7pt},
    visualization depends on={\thisrow{r} \as \rad},
    scatter/@pre marker code/.append style={/tikz/mark size=\rad}},
  node/.style={only marks, mark=square*, mark size=2.7pt, color=nodeblue,
    mark options={draw=nodeblue, fill=nodeblue, line width=0.2pt}},
}

\begin{document}
\begin{tikzpicture}
\useasboundingbox (0,0) rectangle (612pt,432.75pt);

% (a)
\begin{axis}[ffd, toprow, at={(44.5pt,244.1pt)}, width=167.9pt, xmin=-8.45, xmax=8.45, title={\ttlA}]
\addplot[seg, line width=0.9pt] table \tabA;
\addplot[segback, line width=0.9pt] table \tabA;
\addplot[node] coordinates {(0,0)};
\end{axis}

% (c)
\begin{axis}[ffd, toprow, at={(249.3pt,244.1pt)}, width=164.5pt, xmin=-8.45, xmax=8.1, title={\ttlA}]
\addplot[seg, line width=0.65pt, -{Latex[length=2.8pt,width=2.4pt]}] table \tabC;
\addplot[node] coordinates {(0,6.5) (0,-6.5)};
\end{axis}

% (e)
\begin{axis}[ffd, toprow, at={(452.3pt,244.1pt)}, width=159.7pt, xmin=-8.45, xmax=7.62, title={\ttlA}]
\addplot[seg, line width=1.6pt] table \tabE;
\addplot[segback, line width=1.6pt] table \tabE;
\addplot[node] coordinates {(0,6.5) (0,-6.5)};
\end{axis}

% (b)
\begin{axis}[ffd, botrow, at={(44.5pt,27.75pt)}, width=167.9pt, xmin=-8.45, xmax=8.45, title={\ttlB}]
\addplot[rings] table \tabB;
\addplot[node] coordinates {(0,0)};
\end{axis}

% (d)
\begin{axis}[ffd, botrow, at={(249.3pt,27.75pt)}, width=164.5pt, xmin=-8.45, xmax=8.1, title={\ttlB}]
\addplot[rings] table \tabD;
\addplot[node] coordinates {(0,6.5) (0,-6.5)};
\end{axis}

% (f)
\begin{axis}[ffd, botrow, at={(452.3pt,27.75pt)}, width=159.7pt, xmin=-8.45, xmax=7.62, title={\ttlB}]
\addplot[rings] table \tabF;
\addplot[node] coordinates {(0,6.5) (0,-6.5)};
\end{axis}

\begin{scope}[every node/.style={anchor=base west, inner sep=0pt, font=\fontsize{12.4}{14}\selectfont}]
\node at (9pt,410pt) {(a)};
\node at (212.5pt,410.5pt) {(c)};
\node at (416.3pt,410.5pt) {(e)};
\node at (8.8pt,195.6pt) {(b)};
\node at (213.8pt,195.6pt) {(d)};
\node at (417.5pt,195.6pt) {(f)};
\end{scope}
\end{tikzpicture}
\end{document}
